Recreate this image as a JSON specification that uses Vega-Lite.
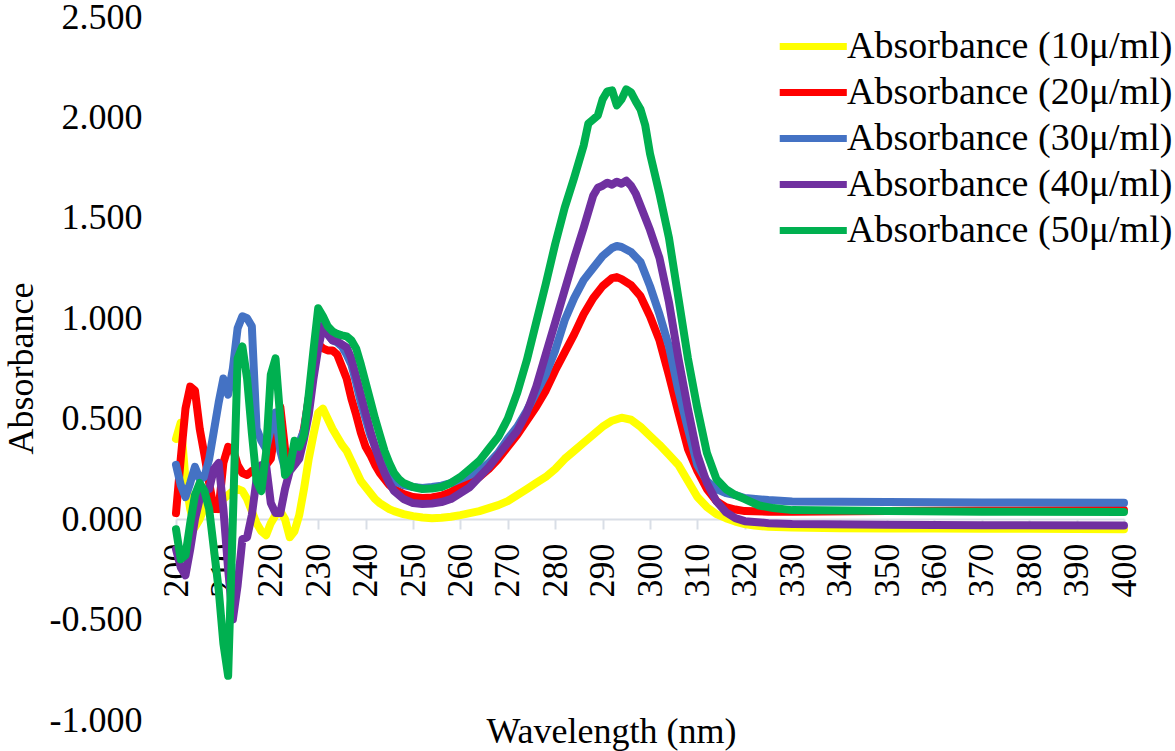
{
"$schema": "https://vega.github.io/schema/vega-lite/v6.json",
"width": 948, "height": 703,
"autosize": {"type": "none"},
"padding": {"left": 176, "top": 17, "right": 51, "bottom": 31},
"background": "white",
"config": {"view": {"stroke": null}, "font": "Times New Roman, Liberation Serif, serif"},
"data": {"values": [
{"w":200,"c":"10","v":0.40},{"w":201,"c":"10","v":0.48},{"w":202,"c":"10","v":0.20},{"w":203,"c":"10","v":0.05},{"w":204,"c":"10","v":-0.04},{"w":205,"c":"10","v":0.0},{"w":206,"c":"10","v":0.06},{"w":207,"c":"10","v":0.09},{"w":208,"c":"10","v":0.07},{"w":209,"c":"10","v":0.05},{"w":210,"c":"10","v":0.10},{"w":211,"c":"10","v":0.12},{"w":212,"c":"10","v":0.14},{"w":213,"c":"10","v":0.15},{"w":214,"c":"10","v":0.14},{"w":215,"c":"10","v":0.10},{"w":216,"c":"10","v":0.04},{"w":217,"c":"10","v":-0.02},{"w":218,"c":"10","v":-0.06},{"w":219,"c":"10","v":-0.08},{"w":220,"c":"10","v":-0.02},{"w":221,"c":"10","v":0.02},{"w":222,"c":"10","v":0.04},{"w":223,"c":"10","v":0.0},{"w":224,"c":"10","v":-0.09},{"w":225,"c":"10","v":-0.06},{"w":226,"c":"10","v":0.02},{"w":227,"c":"10","v":0.15},{"w":228,"c":"10","v":0.30},{"w":229,"c":"10","v":0.42},{"w":230,"c":"10","v":0.53},{"w":231,"c":"10","v":0.55},{"w":232,"c":"10","v":0.50},{"w":233,"c":"10","v":0.45},{"w":234,"c":"10","v":0.41},{"w":235,"c":"10","v":0.37},{"w":236,"c":"10","v":0.34},{"w":237,"c":"10","v":0.29},{"w":238,"c":"10","v":0.24},{"w":239,"c":"10","v":0.19},{"w":240,"c":"10","v":0.16},{"w":241,"c":"10","v":0.13},{"w":242,"c":"10","v":0.10},{"w":243,"c":"10","v":0.08},{"w":244,"c":"10","v":0.065},{"w":245,"c":"10","v":0.05},{"w":246,"c":"10","v":0.04},{"w":248,"c":"10","v":0.025},{"w":250,"c":"10","v":0.015},{"w":252,"c":"10","v":0.008},{"w":254,"c":"10","v":0.005},{"w":256,"c":"10","v":0.007},{"w":258,"c":"10","v":0.012},{"w":260,"c":"10","v":0.02},{"w":262,"c":"10","v":0.03},{"w":264,"c":"10","v":0.04},{"w":266,"c":"10","v":0.055},{"w":268,"c":"10","v":0.07},{"w":270,"c":"10","v":0.09},{"w":272,"c":"10","v":0.12},{"w":274,"c":"10","v":0.15},{"w":276,"c":"10","v":0.18},{"w":278,"c":"10","v":0.21},{"w":280,"c":"10","v":0.25},{"w":282,"c":"10","v":0.30},{"w":284,"c":"10","v":0.34},{"w":286,"c":"10","v":0.38},{"w":288,"c":"10","v":0.42},{"w":290,"c":"10","v":0.46},{"w":292,"c":"10","v":0.49},{"w":294,"c":"10","v":0.505},{"w":296,"c":"10","v":0.495},{"w":298,"c":"10","v":0.46},{"w":300,"c":"10","v":0.415},{"w":302,"c":"10","v":0.37},{"w":304,"c":"10","v":0.32},{"w":306,"c":"10","v":0.27},{"w":308,"c":"10","v":0.19},{"w":310,"c":"10","v":0.11},{"w":312,"c":"10","v":0.06},{"w":314,"c":"10","v":0.025},{"w":316,"c":"10","v":0.005},{"w":318,"c":"10","v":-0.012},{"w":320,"c":"10","v":-0.025},{"w":322,"c":"10","v":-0.032},{"w":325,"c":"10","v":-0.038},{"w":330,"c":"10","v":-0.042},{"w":340,"c":"10","v":-0.045},{"w":350,"c":"10","v":-0.046},{"w":360,"c":"10","v":-0.047},{"w":370,"c":"10","v":-0.048},{"w":380,"c":"10","v":-0.048},{"w":390,"c":"10","v":-0.049},{"w":400,"c":"10","v":-0.05},

{"w":200,"c":"20","v":0.03},{"w":201,"c":"20","v":0.30},{"w":202,"c":"20","v":0.55},{"w":203,"c":"20","v":0.66},{"w":204,"c":"20","v":0.64},{"w":205,"c":"20","v":0.45},{"w":206,"c":"20","v":0.32},{"w":207,"c":"20","v":0.18},{"w":208,"c":"20","v":0.05},{"w":209,"c":"20","v":0.05},{"w":210,"c":"20","v":0.28},{"w":211,"c":"20","v":0.36},{"w":212,"c":"20","v":0.35},{"w":213,"c":"20","v":0.27},{"w":214,"c":"20","v":0.23},{"w":215,"c":"20","v":0.22},{"w":216,"c":"20","v":0.24},{"w":217,"c":"20","v":0.25},{"w":218,"c":"20","v":0.26},{"w":219,"c":"20","v":0.27},{"w":220,"c":"20","v":0.30},{"w":221,"c":"20","v":0.45},{"w":222,"c":"20","v":0.56},{"w":223,"c":"20","v":0.35},{"w":224,"c":"20","v":0.30},{"w":225,"c":"20","v":0.32},{"w":226,"c":"20","v":0.35},{"w":227,"c":"20","v":0.45},{"w":228,"c":"20","v":0.60},{"w":229,"c":"20","v":0.75},{"w":230,"c":"20","v":0.87},{"w":231,"c":"20","v":0.85},{"w":232,"c":"20","v":0.84},{"w":233,"c":"20","v":0.84},{"w":234,"c":"20","v":0.82},{"w":235,"c":"20","v":0.76},{"w":236,"c":"20","v":0.70},{"w":237,"c":"20","v":0.60},{"w":238,"c":"20","v":0.52},{"w":239,"c":"20","v":0.43},{"w":240,"c":"20","v":0.36},{"w":241,"c":"20","v":0.32},{"w":242,"c":"20","v":0.27},{"w":243,"c":"20","v":0.23},{"w":244,"c":"20","v":0.20},{"w":245,"c":"20","v":0.17},{"w":246,"c":"20","v":0.15},{"w":248,"c":"20","v":0.125},{"w":250,"c":"20","v":0.11},{"w":252,"c":"20","v":0.105},{"w":254,"c":"20","v":0.108},{"w":256,"c":"20","v":0.117},{"w":258,"c":"20","v":0.135},{"w":260,"c":"20","v":0.165},{"w":262,"c":"20","v":0.19},{"w":264,"c":"20","v":0.21},{"w":266,"c":"20","v":0.25},{"w":268,"c":"20","v":0.30},{"w":270,"c":"20","v":0.36},{"w":272,"c":"20","v":0.42},{"w":274,"c":"20","v":0.49},{"w":276,"c":"20","v":0.56},{"w":278,"c":"20","v":0.64},{"w":280,"c":"20","v":0.74},{"w":282,"c":"20","v":0.83},{"w":284,"c":"20","v":0.92},{"w":286,"c":"20","v":1.02},{"w":288,"c":"20","v":1.10},{"w":290,"c":"20","v":1.16},{"w":292,"c":"20","v":1.20},{"w":293,"c":"20","v":1.205},{"w":294,"c":"20","v":1.195},{"w":296,"c":"20","v":1.165},{"w":298,"c":"20","v":1.11},{"w":300,"c":"20","v":1.01},{"w":302,"c":"20","v":0.89},{"w":304,"c":"20","v":0.715},{"w":306,"c":"20","v":0.53},{"w":308,"c":"20","v":0.35},{"w":310,"c":"20","v":0.24},{"w":312,"c":"20","v":0.15},{"w":314,"c":"20","v":0.09},{"w":316,"c":"20","v":0.06},{"w":318,"c":"20","v":0.048},{"w":320,"c":"20","v":0.04},{"w":325,"c":"20","v":0.037},{"w":330,"c":"20","v":0.037},{"w":350,"c":"20","v":0.04},{"w":370,"c":"20","v":0.043},{"w":400,"c":"20","v":0.045},

{"w":200,"c":"30","v":0.27},{"w":201,"c":"30","v":0.17},{"w":202,"c":"30","v":0.11},{"w":203,"c":"30","v":0.18},{"w":204,"c":"30","v":0.26},{"w":205,"c":"30","v":0.20},{"w":206,"c":"30","v":0.21},{"w":207,"c":"30","v":0.30},{"w":208,"c":"30","v":0.44},{"w":209,"c":"30","v":0.58},{"w":210,"c":"30","v":0.70},{"w":211,"c":"30","v":0.62},{"w":212,"c":"30","v":0.75},{"w":213,"c":"30","v":0.95},{"w":214,"c":"30","v":1.01},{"w":215,"c":"30","v":1.00},{"w":216,"c":"30","v":0.96},{"w":217,"c":"30","v":0.45},{"w":218,"c":"30","v":0.39},{"w":219,"c":"30","v":0.35},{"w":220,"c":"30","v":0.45},{"w":221,"c":"30","v":0.53},{"w":222,"c":"30","v":0.34},{"w":223,"c":"30","v":0.25},{"w":224,"c":"30","v":0.28},{"w":225,"c":"30","v":0.32},{"w":226,"c":"30","v":0.38},{"w":227,"c":"30","v":0.44},{"w":228,"c":"30","v":0.60},{"w":229,"c":"30","v":0.77},{"w":230,"c":"30","v":0.92},{"w":231,"c":"30","v":0.97},{"w":232,"c":"30","v":0.92},{"w":233,"c":"30","v":0.89},{"w":234,"c":"30","v":0.88},{"w":235,"c":"30","v":0.86},{"w":236,"c":"30","v":0.82},{"w":237,"c":"30","v":0.77},{"w":238,"c":"30","v":0.68},{"w":239,"c":"30","v":0.58},{"w":240,"c":"30","v":0.50},{"w":241,"c":"30","v":0.42},{"w":242,"c":"30","v":0.36},{"w":243,"c":"30","v":0.30},{"w":244,"c":"30","v":0.25},{"w":245,"c":"30","v":0.21},{"w":246,"c":"30","v":0.19},{"w":248,"c":"30","v":0.17},{"w":250,"c":"30","v":0.16},{"w":252,"c":"30","v":0.155},{"w":254,"c":"30","v":0.16},{"w":256,"c":"30","v":0.167},{"w":258,"c":"30","v":0.18},{"w":260,"c":"30","v":0.20},{"w":262,"c":"30","v":0.22},{"w":264,"c":"30","v":0.24},{"w":266,"c":"30","v":0.28},{"w":268,"c":"30","v":0.33},{"w":270,"c":"30","v":0.40},{"w":272,"c":"30","v":0.46},{"w":274,"c":"30","v":0.54},{"w":276,"c":"30","v":0.63},{"w":278,"c":"30","v":0.72},{"w":280,"c":"30","v":0.84},{"w":282,"c":"30","v":0.99},{"w":284,"c":"30","v":1.10},{"w":286,"c":"30","v":1.19},{"w":288,"c":"30","v":1.25},{"w":290,"c":"30","v":1.31},{"w":292,"c":"30","v":1.35},{"w":293,"c":"30","v":1.36},{"w":294,"c":"30","v":1.355},{"w":296,"c":"30","v":1.33},{"w":298,"c":"30","v":1.28},{"w":300,"c":"30","v":1.16},{"w":302,"c":"30","v":1.02},{"w":304,"c":"30","v":0.86},{"w":306,"c":"30","v":0.64},{"w":308,"c":"30","v":0.45},{"w":310,"c":"30","v":0.27},{"w":312,"c":"30","v":0.19},{"w":314,"c":"30","v":0.15},{"w":316,"c":"30","v":0.13},{"w":318,"c":"30","v":0.12},{"w":320,"c":"30","v":0.105},{"w":325,"c":"30","v":0.095},{"w":330,"c":"30","v":0.088},{"w":350,"c":"30","v":0.085},{"w":370,"c":"30","v":0.083},{"w":400,"c":"30","v":0.081},

{"w":200,"c":"40","v":-0.15},{"w":201,"c":"40","v":-0.24},{"w":202,"c":"40","v":-0.28},{"w":203,"c":"40","v":-0.15},{"w":204,"c":"40","v":0.0},{"w":205,"c":"40","v":0.10},{"w":206,"c":"40","v":0.14},{"w":207,"c":"40","v":0.15},{"w":208,"c":"40","v":0.25},{"w":209,"c":"40","v":0.28},{"w":210,"c":"40","v":0.05},{"w":211,"c":"40","v":-0.25},{"w":212,"c":"40","v":-0.50},{"w":213,"c":"40","v":-0.33},{"w":214,"c":"40","v":-0.10},{"w":215,"c":"40","v":-0.09},{"w":216,"c":"40","v":0.02},{"w":217,"c":"40","v":0.20},{"w":218,"c":"40","v":0.27},{"w":219,"c":"40","v":0.27},{"w":220,"c":"40","v":0.08},{"w":221,"c":"40","v":0.03},{"w":222,"c":"40","v":0.03},{"w":223,"c":"40","v":0.15},{"w":224,"c":"40","v":0.24},{"w":225,"c":"40","v":0.27},{"w":226,"c":"40","v":0.30},{"w":227,"c":"40","v":0.40},{"w":228,"c":"40","v":0.52},{"w":229,"c":"40","v":0.70},{"w":230,"c":"40","v":0.85},{"w":231,"c":"40","v":0.96},{"w":232,"c":"40","v":0.92},{"w":233,"c":"40","v":0.89},{"w":234,"c":"40","v":0.885},{"w":235,"c":"40","v":0.87},{"w":236,"c":"40","v":0.855},{"w":237,"c":"40","v":0.80},{"w":238,"c":"40","v":0.71},{"w":239,"c":"40","v":0.62},{"w":240,"c":"40","v":0.53},{"w":241,"c":"40","v":0.44},{"w":242,"c":"40","v":0.36},{"w":243,"c":"40","v":0.29},{"w":244,"c":"40","v":0.23},{"w":245,"c":"40","v":0.18},{"w":246,"c":"40","v":0.14},{"w":248,"c":"40","v":0.10},{"w":250,"c":"40","v":0.08},{"w":252,"c":"40","v":0.075},{"w":254,"c":"40","v":0.078},{"w":256,"c":"40","v":0.085},{"w":258,"c":"40","v":0.10},{"w":260,"c":"40","v":0.13},{"w":262,"c":"40","v":0.16},{"w":264,"c":"40","v":0.21},{"w":266,"c":"40","v":0.26},{"w":268,"c":"40","v":0.32},{"w":270,"c":"40","v":0.38},{"w":272,"c":"40","v":0.44},{"w":274,"c":"40","v":0.53},{"w":276,"c":"40","v":0.66},{"w":278,"c":"40","v":0.82},{"w":280,"c":"40","v":0.98},{"w":282,"c":"40","v":1.14},{"w":284,"c":"40","v":1.30},{"w":286,"c":"40","v":1.45},{"w":288,"c":"40","v":1.61},{"w":289,"c":"40","v":1.65},{"w":290,"c":"40","v":1.66},{"w":291,"c":"40","v":1.675},{"w":292,"c":"40","v":1.665},{"w":293,"c":"40","v":1.68},{"w":294,"c":"40","v":1.67},{"w":295,"c":"40","v":1.685},{"w":296,"c":"40","v":1.66},{"w":297,"c":"40","v":1.62},{"w":298,"c":"40","v":1.56},{"w":300,"c":"40","v":1.44},{"w":302,"c":"40","v":1.30},{"w":304,"c":"40","v":1.08},{"w":306,"c":"40","v":0.80},{"w":308,"c":"40","v":0.55},{"w":310,"c":"40","v":0.32},{"w":312,"c":"40","v":0.18},{"w":314,"c":"40","v":0.09},{"w":316,"c":"40","v":0.035},{"w":318,"c":"40","v":0.005},{"w":320,"c":"40","v":-0.01},{"w":325,"c":"40","v":-0.02},{"w":330,"c":"40","v":-0.024},{"w":350,"c":"40","v":-0.028},{"w":370,"c":"40","v":-0.03},{"w":400,"c":"40","v":-0.032},

{"w":200,"c":"50","v":-0.05},{"w":201,"c":"50","v":-0.20},{"w":202,"c":"50","v":-0.18},{"w":203,"c":"50","v":-0.02},{"w":204,"c":"50","v":0.12},{"w":205,"c":"50","v":0.18},{"w":206,"c":"50","v":0.14},{"w":207,"c":"50","v":0.05},{"w":208,"c":"50","v":-0.15},{"w":209,"c":"50","v":-0.35},{"w":210,"c":"50","v":-0.62},{"w":211,"c":"50","v":-0.78},{"w":212,"c":"50","v":0.0},{"w":213,"c":"50","v":0.80},{"w":214,"c":"50","v":0.86},{"w":215,"c":"50","v":0.70},{"w":216,"c":"50","v":0.43},{"w":217,"c":"50","v":0.19},{"w":218,"c":"50","v":0.14},{"w":219,"c":"50","v":0.33},{"w":220,"c":"50","v":0.72},{"w":221,"c":"50","v":0.80},{"w":222,"c":"50","v":0.50},{"w":223,"c":"50","v":0.22},{"w":224,"c":"50","v":0.25},{"w":225,"c":"50","v":0.39},{"w":226,"c":"50","v":0.36},{"w":227,"c":"50","v":0.42},{"w":228,"c":"50","v":0.62},{"w":229,"c":"50","v":0.84},{"w":230,"c":"50","v":1.05},{"w":231,"c":"50","v":1.01},{"w":232,"c":"50","v":0.96},{"w":233,"c":"50","v":0.935},{"w":234,"c":"50","v":0.922},{"w":235,"c":"50","v":0.915},{"w":236,"c":"50","v":0.91},{"w":237,"c":"50","v":0.89},{"w":238,"c":"50","v":0.85},{"w":239,"c":"50","v":0.77},{"w":240,"c":"50","v":0.68},{"w":241,"c":"50","v":0.59},{"w":242,"c":"50","v":0.50},{"w":243,"c":"50","v":0.42},{"w":244,"c":"50","v":0.34},{"w":245,"c":"50","v":0.28},{"w":246,"c":"50","v":0.23},{"w":247,"c":"50","v":0.20},{"w":248,"c":"50","v":0.18},{"w":250,"c":"50","v":0.16},{"w":252,"c":"50","v":0.15},{"w":254,"c":"50","v":0.152},{"w":256,"c":"50","v":0.16},{"w":258,"c":"50","v":0.18},{"w":260,"c":"50","v":0.21},{"w":262,"c":"50","v":0.25},{"w":264,"c":"50","v":0.29},{"w":266,"c":"50","v":0.35},{"w":268,"c":"50","v":0.41},{"w":270,"c":"50","v":0.50},{"w":272,"c":"50","v":0.63},{"w":274,"c":"50","v":0.79},{"w":276,"c":"50","v":0.98},{"w":278,"c":"50","v":1.17},{"w":280,"c":"50","v":1.37},{"w":282,"c":"50","v":1.55},{"w":284,"c":"50","v":1.70},{"w":286,"c":"50","v":1.86},{"w":287,"c":"50","v":1.97},{"w":288,"c":"50","v":1.99},{"w":289,"c":"50","v":2.01},{"w":290,"c":"50","v":2.09},{"w":291,"c":"50","v":2.13},{"w":292,"c":"50","v":2.135},{"w":293,"c":"50","v":2.06},{"w":294,"c":"50","v":2.09},{"w":295,"c":"50","v":2.14},{"w":296,"c":"50","v":2.125},{"w":297,"c":"50","v":2.08},{"w":298,"c":"50","v":2.04},{"w":299,"c":"50","v":1.96},{"w":300,"c":"50","v":1.82},{"w":302,"c":"50","v":1.62},{"w":304,"c":"50","v":1.40},{"w":306,"c":"50","v":1.10},{"w":308,"c":"50","v":0.80},{"w":310,"c":"50","v":0.55},{"w":312,"c":"50","v":0.33},{"w":314,"c":"50","v":0.20},{"w":316,"c":"50","v":0.15},{"w":318,"c":"50","v":0.12},{"w":320,"c":"50","v":0.10},{"w":323,"c":"50","v":0.068},{"w":326,"c":"50","v":0.055},{"w":330,"c":"50","v":0.045},{"w":350,"c":"50","v":0.04},{"w":370,"c":"50","v":0.037},{"w":400,"c":"50","v":0.035}
]},
"mark": {"type": "line", "strokeWidth": 8, "strokeCap": "round", "strokeJoin": "round"},
"encoding": {
  "x": {"field": "w", "type": "quantitative",
    "scale": {"domain": [200, 400], "nice": false, "zero": false},
    "axis": {"values": [200,210,220,230,240,250,260,270,280,290,300,310,320,330,340,350,360,370,380,390,400],
      "offset": -201, "grid": false, "domainColor": "#d9dee6", "domainWidth": 2, "tickColor": "#d9dee6", "tickWidth": 2, "tickSize": 10,
      "labelAngle": -90, "labelFontSize": 36, "labelColor": "black", "labelFont": "Times New Roman, Liberation Serif, serif", "labelPadding": 14,
      "labelFlush": false, "labelOverlap": false,
      "title": "Wavelength (nm)", "titleFont": "Times New Roman, Liberation Serif, serif", "titleFontSize": 36, "titleFontWeight": "normal", "titleColor": "black",
      "titleX": 435, "titleY": 212, "titleBaseline": "middle", "titleAlign": "center"}},
  "y": {"field": "v", "type": "quantitative",
    "scale": {"domain": [-1, 2.5], "nice": false, "zero": false},
    "axis": {"values": [-1,-0.5,0,0.5,1,1.5,2,2.5],
      "labelExpr": "replace(format(datum.value, '.3f'), '−', '-')",
      "grid": false, "domain": false, "ticks": false, "labelPadding": 34,
      "labelFontSize": 36, "labelColor": "black", "labelFont": "Times New Roman, Liberation Serif, serif", "labelFlush": false, "labelOverlap": false,
      "title": "Absorbance", "titleFont": "Times New Roman, Liberation Serif, serif", "titleFontSize": 36, "titleFontWeight": "normal", "titleColor": "black",
      "titleX": -155, "titleY": 351, "titleAngle": -90, "titleBaseline": "middle", "titleAlign": "center"}},
  "color": {"field": "c", "type": "nominal",
    "scale": {"domain": ["10","20","30","40","50"], "range": ["#FFFF00","#FF0000","#4472C4","#7030A0","#00B050"]},
    "legend": {"orient": "none", "legendX": 600, "legendY": 9, "title": null, "padding": 0,
      "symbolType": "M-1,0H3", "symbolSize": 1125, "symbolStrokeWidth": 7, "symbolFillColor": "transparent",
      "labelFontSize": 38, "labelColor": "black", "labelFont": "Times New Roman, Liberation Serif, serif", "labelOffset": 30, "rowPadding": 6, "labelLimit": 0,
      "labelExpr": "'Absorbance (' + datum.label + 'μ/ml)'"}}
}
}
